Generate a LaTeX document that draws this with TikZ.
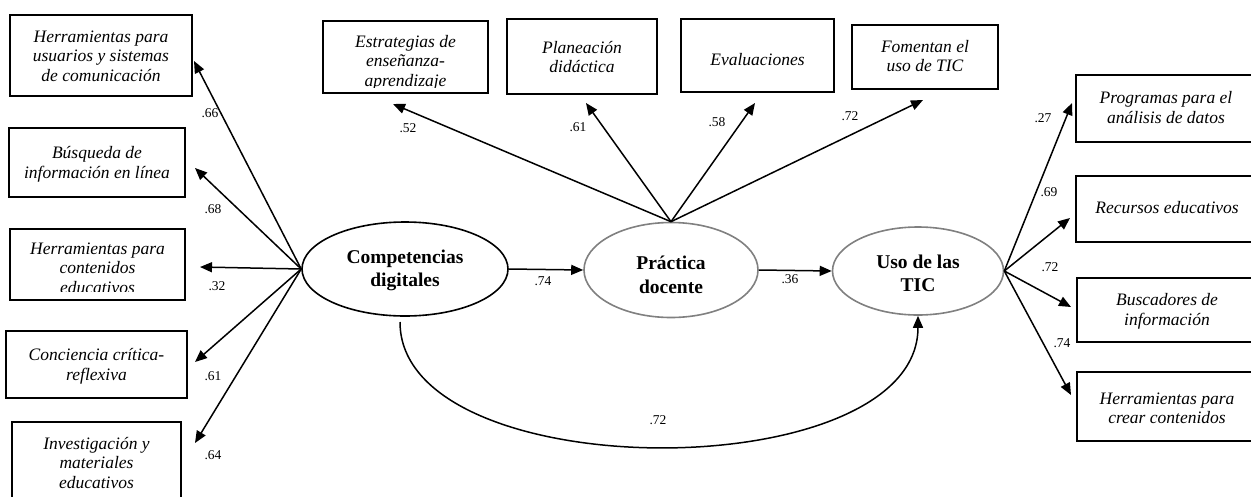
\documentclass[tikz,border=0pt]{standalone}
\usepackage{fontspec}
\setmainfont{Liberation Serif}
\usetikzlibrary{shapes.geometric,arrows.meta}
\definecolor{ellgray}{RGB}{128,128,128}
\begin{document}
\begin{tikzpicture}[x=1pt,y=-1pt,
 box/.style={draw, line width=1.4pt, inner sep=0pt},
 itx/.style={font=\fontsize{17.5}{19.5}\selectfont\itshape, align=center, inner sep=0pt},
 lat/.style={ellipse, draw, line width=1.6pt, inner sep=0pt},
 lattxt/.style={font=\fontsize{19.5}{23.5}\selectfont\bfseries, align=center, inner sep=0pt},
 num/.style={font=\fontsize{13.5}{15}\selectfont, inner sep=0pt},
 arr/.style={-{Triangle[length=12pt,width=10pt]}, line width=1.5pt}
]
\clip (0,0) rectangle (1251,496);
\fill[white] (0,0) rectangle (1251,496);

% latent variables
\node[lat, minimum width=206pt, minimum height=94pt] (comp) at (405,269) {};
\node[lattxt] (compt) at (405,270.5) {Competencias\\digitales};
\node[lat, draw=ellgray, minimum width=174pt, minimum height=95pt] (prac) at (671,270) {};
\node[lattxt] (pract) at (671,275) {Práctica\\docente};
\node[lat, draw=ellgray, minimum width=171pt, minimum height=88pt] (uso) at (918,271) {};
\node[lattxt] (usot) at (918,273.5) {Uso de las\\TIC};

% left boxes
\node[box, minimum width=182pt, minimum height=81pt] (l1) at (101,55.5) {};
\node[itx] (l1t) at (101,56) {Herramientas para\\usuarios y sistemas\\de comunicación};
\node[box, minimum width=176pt, minimum height=69pt] (l2) at (97,162.5) {};
\node[itx] (l2t) at (97,164.5) {Búsqueda de\\información en línea};
\node[box, minimum width=175pt, minimum height=71pt] (l3) at (97.5,264.5) {};
\begin{scope}
\clip (10,229) rectangle (185,291);
\node[itx] (l3t) at (97.5,268) {Herramientas para\\contenidos\\educativos};
\end{scope}
\node[box, minimum width=181pt, minimum height=67pt] (l4) at (96.5,364.5) {};
\node[itx] (l4t) at (96.5,366.5) {Conciencia crítica-\\reflexiva};
\node[box, minimum width=169pt, minimum height=90pt] (l5) at (96.5,467) {};
\node[itx] (l5t) at (96.5,463) {Investigación y\\materiales\\educativos};

% top boxes
\node[box, minimum width=165pt, minimum height=72pt] (t1) at (405.5,57) {};
\begin{scope}
\clip (323,21) rectangle (488,87);
\node[itx] (t1t) at (405.5,62.5) {Estrategias de\\enseñanza-\\aprendizaje};
\end{scope}
\node[box, minimum width=150pt, minimum height=75pt] (t2) at (582,56.5) {};
\node[itx] (t2t) at (582,57) {Planeación\\didáctica};
\node[box, minimum width=153pt, minimum height=73pt] (t3) at (757.5,55.5) {};
\node[itx] (t3t) at (757.5,60) {Evaluaciones};
\node[box, minimum width=146pt, minimum height=64pt] (t4) at (925,57) {};
\node[itx] (t4t) at (925,56) {Fomentan el\\uso de TIC};

% right boxes (run past the right edge)
\node[box, minimum width=190pt, minimum height=67pt] (r1) at (1171,108.5) {};
\node[itx] (r1t) at (1166,107.5) {Programas para el\\análisis de datos};
\node[box, minimum width=190pt, minimum height=66pt] (r2) at (1171,209) {};
\node[itx] (r2t) at (1167,208) {Recursos educativos};
\node[box, minimum width=189pt, minimum height=64pt] (r3) at (1171.5,310) {};
\node[itx] (r3t) at (1167,311.5) {Buscadores de\\información};
\node[box, minimum width=189pt, minimum height=69pt] (r4) at (1171.5,406.5) {};
\node[itx] (r4t) at (1167,408.5) {Herramientas para\\crear contenidos};

% arrow end points
\coordinate (a1) at (194,61);
\coordinate (a2) at (195,168);
\coordinate (a3) at (200,267);
\coordinate (a4) at (195,362);
\coordinate (a5) at (195,443);
\coordinate (b1) at (393,104);
\coordinate (b2) at (586,103);
\coordinate (b3) at (755,103);
\coordinate (b4) at (923,100);
\coordinate (c1) at (1072,103);
\coordinate (c2) at (1070,218);
\coordinate (c3) at (1071,307);
\coordinate (c4) at (1071,395);
\coordinate (cs) at (400,322);

% arrows
\foreach \t in {a1,a2,a3,a4,a5} \draw[arr] (comp.west) -- (\t);
\foreach \t in {b1,b2,b3,b4} \draw[arr] (prac.north) -- (\t);
\foreach \t in {c1,c2,c3,c4} \draw[arr] (uso.east) -- (\t);
\draw[arr] (comp.east) -- (prac.west);
\draw[arr] (prac.east) -- (uso.west);
\draw[arr] (cs) .. controls (400,489) and (918,489) .. (uso.south);

% coefficients
\node[num] (n1) at (210,113) {.66};
\node[num] (n2) at (213,209) {.68};
\node[num] (n3) at (217,286) {.32};
\node[num] (n4) at (213,376) {.61};
\node[num] (n5) at (213,455) {.64};
\node[num] (n6) at (408,128) {.52};
\node[num] (n7) at (578,127) {.61};
\node[num] (n8) at (717,122) {.58};
\node[num] (n9) at (850,116) {.72};
\node[num] (n10) at (543,281) {.74};
\node[num] (n11) at (790,279) {.36};
\node[num] (n12) at (658,420) {.72};
\node[num] (n13) at (1043,118) {.27};
\node[num] (n14) at (1049,192) {.69};
\node[num] (n15) at (1050,267) {.72};
\node[num] (n16) at (1062,343) {.74};
\end{tikzpicture}
\end{document}
